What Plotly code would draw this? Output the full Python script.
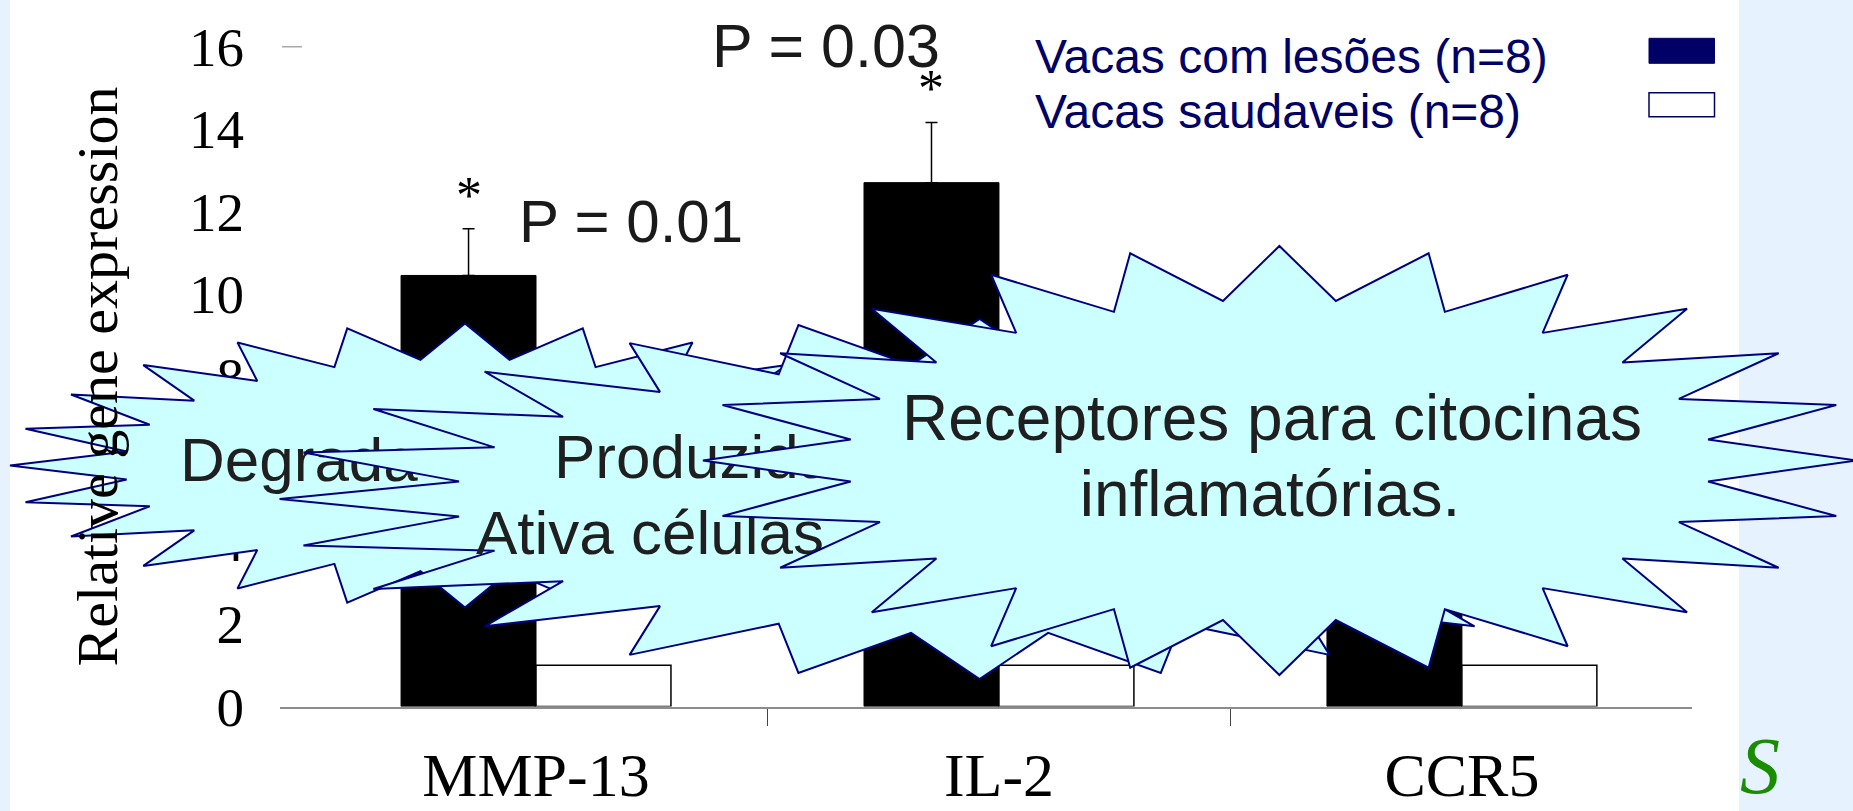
import math
import plotly.graph_objects as go

# ---------------- data ----------------
categories = ["MMP-13", "IL-2", "CCR5"]
series_names = ["Vacas com lesões (n=8)", "Vacas saudaveis (n=8)"]
lesion_values = [10.45, 12.7, 4.0]
lesion_errors = [1.13, 1.46, 0.8]
healthy_values = [1.0, 1.0, 1.0]
significance = ["*", "*", ""]
p_labels = ["P = 0.01", "P = 0.03"]
y_ticks = [0, 2, 4, 6, 8, 10, 12, 14, 16]
axis_title = "Relative gene expression"
star1_lines = ["Degrada"]
star2_lines = ["Produzida", "Ativa células"]
star3_lines = ["Receptores para citocinas", "inflamatórias."]

# ---------------- layout constants (pixels) ----------------
W, H = 1853, 811
PLOT_L, PLOT_R, PLOT_T, PLOT_B = 280, 1692, 46.5, 706.5
X_RANGE = [-0.553, 2.497]
BARGAP = 0.417
SERIF = "Liberation Serif, Times New Roman, serif"
SANS = "Liberation Sans, Arial, sans-serif"
NAVY = "#000066"
PANEL = "#E6F2FE"
STAR_FILL = "#CCFFFF"
STAR_LINE = "#000080"
INNER = 0.75
STARS = [(465.0, 465.5, 455.0, 142.0),
         (979.6, 499.0, 700.0, 180.0),
         (1279.4, 460.5, 576.5, 214.5)]


def px(x):
    return x / W


def py(y):
    return 1 - y / H


def star_outline(cx, cy, rx, ry):
    xs, ys = [], []
    for i in range(49):
        a = math.radians(7.5 * i)
        r = 1.0 if i % 2 == 0 else INNER
        xs.append(cx + r * rx * math.cos(a))
        ys.append(cy - r * ry * math.sin(a))
    return xs, ys


fig = go.Figure()

x_pos = list(range(len(categories)))

fig.add_trace(go.Bar(
    x=x_pos, y=lesion_values, name=series_names[0],
    marker=dict(color="#000000", line=dict(color="#000000", width=1)),
    error_y=dict(type="data", array=lesion_errors, arrayminus=[0] * len(lesion_errors),
                 symmetric=False, color="#000000", thickness=1.5, width=6),
    showlegend=False, hoverinfo="skip"))
fig.add_trace(go.Bar(
    x=x_pos, y=healthy_values, name=series_names[1],
    marker=dict(color="#FFFFFF", line=dict(color="#000000", width=1.5)),
    showlegend=False, hoverinfo="skip"))

# starbursts (drawn in an overlay subplot covering the whole figure)
star_text_specs = [
    [(star1_lines[0], 180, 465.8, "middle right", 62)],
    [(star2_lines[0], 554, 462.0, "middle right", 62),
     (star2_lines[1], 476, 538.7, "middle right", 62)],
    [(star3_lines[0], 1272, 424.2, "middle center", 64),
     (star3_lines[1], 1270, 500.2, "middle center", 64)],
]
for (cx, cy, rx, ry), texts in zip(STARS, star_text_specs):
    xs, ys = star_outline(cx, cy, rx, ry)
    fig.add_trace(go.Scatter(
        x=xs, y=ys, mode="lines", fill="toself", fillcolor=STAR_FILL,
        line=dict(color=STAR_LINE, width=2), xaxis="x2", yaxis="y2",
        showlegend=False, hoverinfo="skip"))
    for t, tx, ty, pos, fs in texts:
        fig.add_trace(go.Scatter(
            x=[tx], y=[ty], mode="text", text=[t], textposition=pos,
            textfont=dict(family=SANS, size=fs, color="#1F1F1F"),
            xaxis="x2", yaxis="y2", cliponaxis=False,
            showlegend=False, hoverinfo="skip"))

annotations = []
# significance asterisks above error bars
offset = (1 - BARGAP) / 4
for i, mark in enumerate(significance):
    if mark:
        annotations.append(dict(
            x=x_pos[i] - offset, y=lesion_values[i] + lesion_errors[i],
            xref="x", yref="y", text=mark, showarrow=False,
            yanchor="bottom", yshift=3,
            font=dict(family=SERIF, size=52, color="#000000")))
# p-values
annotations.append(dict(x=px(517), y=py(221.5), xref="paper", yref="paper",
                        text=p_labels[0], showarrow=False, xanchor="left", yanchor="middle",
                        font=dict(family=SANS, size=60, color="#1A1A1A")))
annotations.append(dict(x=px(710), y=py(45.5), xref="paper", yref="paper",
                        text=p_labels[1], showarrow=False, xanchor="left", yanchor="middle",
                        font=dict(family=SANS, size=61, color="#1A1A1A")))
# legend text
annotations.append(dict(x=px(1033), y=py(56), xref="paper", yref="paper",
                        text=series_names[0], showarrow=False, xanchor="left", yanchor="middle",
                        font=dict(family=SANS, size=48, color=NAVY)))
annotations.append(dict(x=px(1033), y=py(111.3), xref="paper", yref="paper",
                        text=series_names[1], showarrow=False, xanchor="left", yanchor="middle",
                        font=dict(family=SANS, size=48, color=NAVY)))
# logo fragment
annotations.append(dict(x=px(1738), y=py(720), xref="paper", yref="paper",
                        text="S", showarrow=False, xanchor="left", yanchor="top",
                        font=dict(family=SERIF, size=80, color="#1A8C00", style="italic")))

shapes = [
    dict(type="rect", xref="paper", yref="paper", x0=0, x1=px(10), y0=0, y1=1,
         fillcolor=PANEL, line=dict(width=0), layer="below"),
    dict(type="rect", xref="paper", yref="paper", x0=px(1739), x1=1, y0=0, y1=1,
         fillcolor=PANEL, line=dict(width=0), layer="below"),
    dict(type="line", xref="paper", yref="y", x0=px(282), x1=px(302), y0=16, y1=16,
         line=dict(color="#555555", width=1.5)),
    dict(type="rect", xref="paper", yref="paper", x0=px(1649), x1=px(1714.5),
         y0=py(63.3), y1=py(38.3), fillcolor=NAVY, line=dict(color=NAVY, width=1)),
    dict(type="rect", xref="paper", yref="paper", x0=px(1649), x1=px(1714.5),
         y0=py(116.7), y1=py(92.7), fillcolor="#FFFFFF", line=dict(color=NAVY, width=1.5)),
]

fig.update_layout(
    template="none",
    width=W, height=H,
    margin=dict(l=0, r=0, t=0, b=0, autoexpand=False),
    paper_bgcolor="#FFFFFF", plot_bgcolor="rgba(0,0,0,0)",
    barmode="group", bargap=BARGAP, bargroupgap=0,
    hovermode=False, showlegend=False,
    xaxis=dict(domain=[px(PLOT_L), px(PLOT_R)], range=X_RANGE, automargin=False,
               tickmode="array", tickvals=x_pos, ticktext=categories, ticks="",
               tickfont=dict(family=SERIF, size=62, color="#000000"),
               ticklabelstandoff=13,
               showline=True, linecolor="#8C8C8C", linewidth=2,
               showgrid=False, zeroline=False, fixedrange=True,
               minor=dict(tickmode="array", tickvals=[0.5, 1.5], ticks="outside",
                          ticklen=17, tickwidth=1, tickcolor="#444444", showgrid=False)),
    yaxis=dict(domain=[py(PLOT_B), py(PLOT_T)], range=[0, 16], automargin=False,
               tickmode="array", tickvals=y_ticks, ticks="",
               tickfont=dict(family=SERIF, size=55, color="#000000"),
               ticklabelstandoff=35,
               showline=False, showgrid=False, zeroline=False, fixedrange=True,
               title=dict(text=axis_title, standoff=52,
                          font=dict(family=SERIF, size=58, color="#000000"))),
    xaxis2=dict(domain=[0, 1], range=[0, W], visible=False, anchor="y2",
                fixedrange=True, automargin=False),
    yaxis2=dict(domain=[0, 1], range=[H, 0], visible=False, anchor="x2",
                fixedrange=True, automargin=False),
    annotations=annotations,
    shapes=shapes,
)

fig.write_html("out.html", config={"displayModeBar": False},
               post_script="document.body.style.margin='0px';")
